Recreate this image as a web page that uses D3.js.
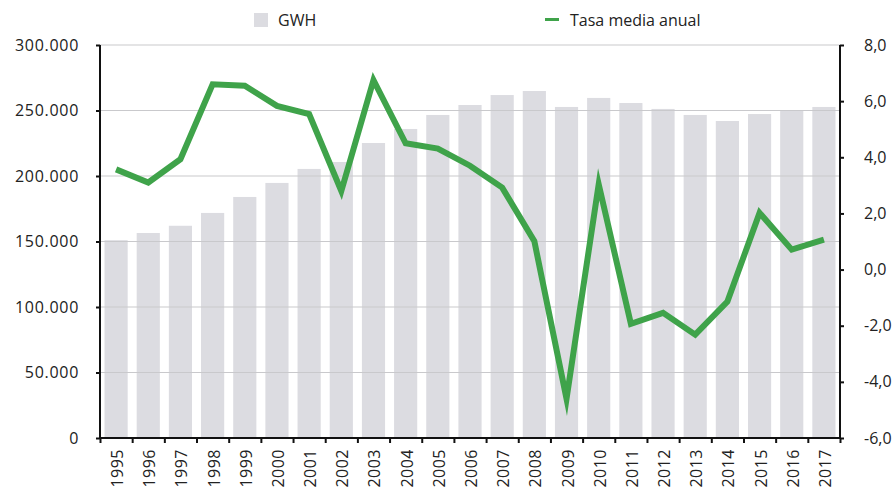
<!DOCTYPE html>
<html>
<head>
<meta charset="utf-8">
<style>
body { margin: 0; background: #fff; }
text { font-family: "Open Sans", sans-serif; fill: #222; }
.grid line { stroke: #c9c9cc; stroke-width: 1.2px; }
.axis path, .axis line { stroke: #111; stroke-width: 2px; }
</style>
</head>
<body>
<script src="https://cdn.jsdelivr.net/npm/d3@7/dist/d3.min.js"></script>
<script>

var years = ["1995","1996","1997","1998","1999","2000","2001","2002","2003","2004","2005","2006",
             "2007","2008","2009","2010","2011","2012","2013","2014","2015","2016","2017"];

var gwh = [151000, 156500, 162000, 171800, 184000, 194700, 205400, 210700, 225200, 235900, 246600, 254200,
           261800, 264900, 252700, 259600, 255700, 251200, 246600, 242000, 247300, 249600, 252700];

var tasa = [3.57, 3.1, 3.93, 6.6, 6.55, 5.83, 5.54, 2.8, 6.75, 4.5, 4.31, 3.7,
            2.92, 1.01, -4.6, 3.04, -1.93, -1.54, -2.32, -1.14, 2.02, 0.71, 1.07];

var leftTicks = [0, 50000, 100000, 150000, 200000, 250000, 300000];
var rightTicks = [-6, -4, -2, 0, 2, 4, 6, 8];

var width = 893, height = 488;
var mLeft = 100, mRight = 840, mTop = 45, mBottom = 438;

var svg = d3.select("body").append("svg")
    .attr("width", width)
    .attr("height", height);

var x = d3.scaleBand()
    .domain(years)
    .range([mLeft, mRight])
    .paddingInner(0.28)
    .paddingOuter(0.14);

var xIdx = d3.scaleLinear()
    .domain([0, years.length])
    .range([mLeft, mRight]);

var yL = d3.scaleLinear().domain([0, 300000]).range([mBottom, mTop]);
var yR = d3.scaleLinear().domain([-6, 8]).range([mBottom, mTop]);

var fmtL = function(d) { return d3.format(",")(d).replace(/,/g, "."); };
var fmtR = function(d) { return d.toFixed(1).replace(".", ","); };

// bars
svg.append("g")
    .selectAll("rect")
    .data(gwh)
    .enter()
    .append("rect")
    .attr("x", function(d, i) { return x(years[i]); })
    .attr("width", x.bandwidth())
    .attr("y", function(d) { return yL(d); })
    .attr("height", function(d) { return yL(0) - yL(d); })
    .style("fill", "#dcdce1");

// gridlines
svg.append("g")
    .attr("class", "grid")
    .selectAll("line")
    .data(leftTicks.slice(1))
    .enter()
    .append("line")
    .attr("x1", mLeft)
    .attr("x2", mRight)
    .attr("y1", function(d) { return yL(d); })
    .attr("y2", function(d) { return yL(d); });

// line
var line = d3.line()
    .x(function(d, i) { return x(years[i]) + x.bandwidth() / 2; })
    .y(function(d) { return yR(d); });

svg.append("path")
    .datum(tasa)
    .attr("d", line)
    .style("fill", "none")
    .style("stroke", "#3fa34a")
    .style("stroke-width", 6)
    .style("stroke-linejoin", "miter")
    .style("stroke-miterlimit", 10);

// axes
var gl = svg.append("g")
    .attr("class", "axis")
    .attr("transform", "translate(" + mLeft + ",0)")
    .call(d3.axisLeft(yL).tickValues(leftTicks).tickFormat(fmtL).tickSize(4).tickPadding(17));

var gr = svg.append("g")
    .attr("class", "axis")
    .attr("transform", "translate(" + mRight + ",0)")
    .call(d3.axisRight(yR).tickValues(rightTicks).tickFormat(fmtR).tickSize(4).tickPadding(20));

var gb = svg.append("g")
    .attr("class", "axis")
    .attr("transform", "translate(0," + mBottom + ")")
    .call(d3.axisBottom(xIdx).tickValues(d3.range(years.length + 1)).tickFormat("").tickSize(5));

[gl, gr, gb].forEach(function(g) {
  g.select(".domain").attr("d", g === gb
      ? "M" + mLeft + ",0H" + mRight
      : "M0," + mTop + "V" + mBottom);
  g.selectAll("text")
    .style("font-size", "16px")
    .style("letter-spacing", g === gl ? "0.7px" : "0px")
    .style("fill", "#222");
});

// year labels
svg.append("g")
    .selectAll("text")
    .data(years)
    .enter()
    .append("text")
    .attr("transform", function(d) {
      return "translate(" + (x(d) + x.bandwidth() / 2 + 7) + "," + (mBottom + 11) + ") rotate(-90)";
    })
    .attr("text-anchor", "end")
    .style("font-size", "16px")
    .style("letter-spacing", "0.5px")
    .text(function(d) { return d; });

// legend
var leg = svg.append("g");
leg.append("rect")
    .attr("x", 254).attr("y", 13)
    .attr("width", 14).attr("height", 14)
    .style("fill", "#dcdce1");
leg.append("text")
    .attr("x", 278).attr("y", 20).attr("dy", "0.35em")
    .style("font-size", "16px")
    .text("GWH");
leg.append("line")
    .attr("x1", 545).attr("x2", 559)
    .attr("y1", 19.5).attr("y2", 19.5)
    .style("stroke", "#3fa34a")
    .style("stroke-width", 3);
leg.append("text")
    .attr("x", 570).attr("y", 20).attr("dy", "0.35em")
    .style("font-size", "16px")
    .text("Tasa media anual");

</script>
</body>
</html>
